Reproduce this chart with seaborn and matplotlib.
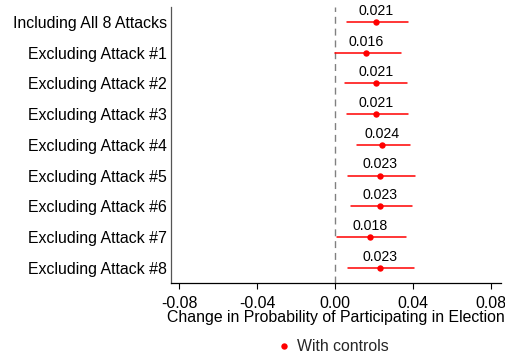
import matplotlib
matplotlib.use("Agg")
import matplotlib.pyplot as plt
from matplotlib.lines import Line2D
import numpy as np
import pandas as pd
import seaborn as sns

# Specifications (one row per estimate)
specs = [
    "Including All 8 Attacks",
    "Excluding Attack #1",
    "Excluding Attack #2",
    "Excluding Attack #3",
    "Excluding Attack #4",
    "Excluding Attack #5",
    "Excluding Attack #6",
    "Excluding Attack #7",
    "Excluding Attack #8",
]
# Point estimates and 95% confidence bounds
estimates = [0.021, 0.016, 0.021, 0.021, 0.024, 0.023, 0.023, 0.018, 0.023]
ci_low = [0.0063, 0.0000, 0.0051, 0.0063, 0.0111, 0.0068, 0.0082, 0.0009, 0.0065]
ci_high = [0.0373, 0.0337, 0.0369, 0.0373, 0.0385, 0.0410, 0.0397, 0.0366, 0.0405]

x_ticks = [-0.08, -0.04, 0.00, 0.04, 0.08]
x_tick_labels = ["-0.08", "-0.04", "0.00", "0.04", "0.08"]
x_title = "Change in Probability of Participating in Election"
legend_label = "With controls"

# Long form: low bound, estimate and high bound per specification.
# Median gives the estimate, the full-range interval gives the CI.
long_df = pd.DataFrame({
    "spec": np.repeat(specs, 3),
    "value": np.ravel(np.column_stack([ci_low, estimates, ci_high])),
})

sns.set_theme(style="white")
plt.rcParams["font.family"] = ["Liberation Sans", "DejaVu Sans"]

fig = plt.figure(figsize=(5.06, 3.58), dpi=100)
ax = fig.add_axes([0.338, 0.2095, 0.652, 0.7709])

red = "#ff0000"
ax.axvline(0, color="#808080", lw=1.0, ls=(0, (5, 3.5)), zorder=1)

sns.pointplot(
    data=long_df, x="value", y="spec", order=specs,
    estimator="median", errorbar=("pi", 100),
    color=red, linestyle="none", markers="o", markersize=4.6,
    markeredgewidth=0, err_kws={"linewidth": 1.1}, ax=ax,
)

# Value labels above each point
for i, v in enumerate(estimates):
    ax.annotate(f"{v:.3f}", xy=(v, i), xytext=(0, 8), textcoords="offset points",
                ha="center", va="center", fontsize=10.2, color="black")

ax.set_xlim(-0.0841, 0.0851)
ax.set_ylim(8.5, -0.49)
ax.set_xticks(x_ticks)
ax.set_xticklabels(x_tick_labels)
ax.set_xlabel(x_title, fontsize=11.4, color="black", labelpad=-1)
ax.set_ylabel("")

ax.tick_params(axis="x", which="major", bottom=True, length=4, width=0.8,
               color="black", labelsize=11.4, labelcolor="black", pad=5.5)
ax.tick_params(axis="y", left=False, length=0, labelsize=11.4,
               labelcolor="black", pad=3)

for side in ["top", "right"]:
    ax.spines[side].set_visible(False)
ax.spines["left"].set_color("#555555")
ax.spines["left"].set_linewidth(0.9)
ax.spines["bottom"].set_color("black")
ax.spines["bottom"].set_linewidth(0.9)

handle = Line2D([], [], ls="none", marker="o", color=red, markersize=4.6,
                markeredgewidth=0)
fig.legend([handle], [legend_label], loc="center", bbox_to_anchor=(0.658, 0.031),
           frameon=False, fontsize=11.4, handlelength=0.8, handletextpad=0.4)

fig.savefig("out.png", dpi=100)
